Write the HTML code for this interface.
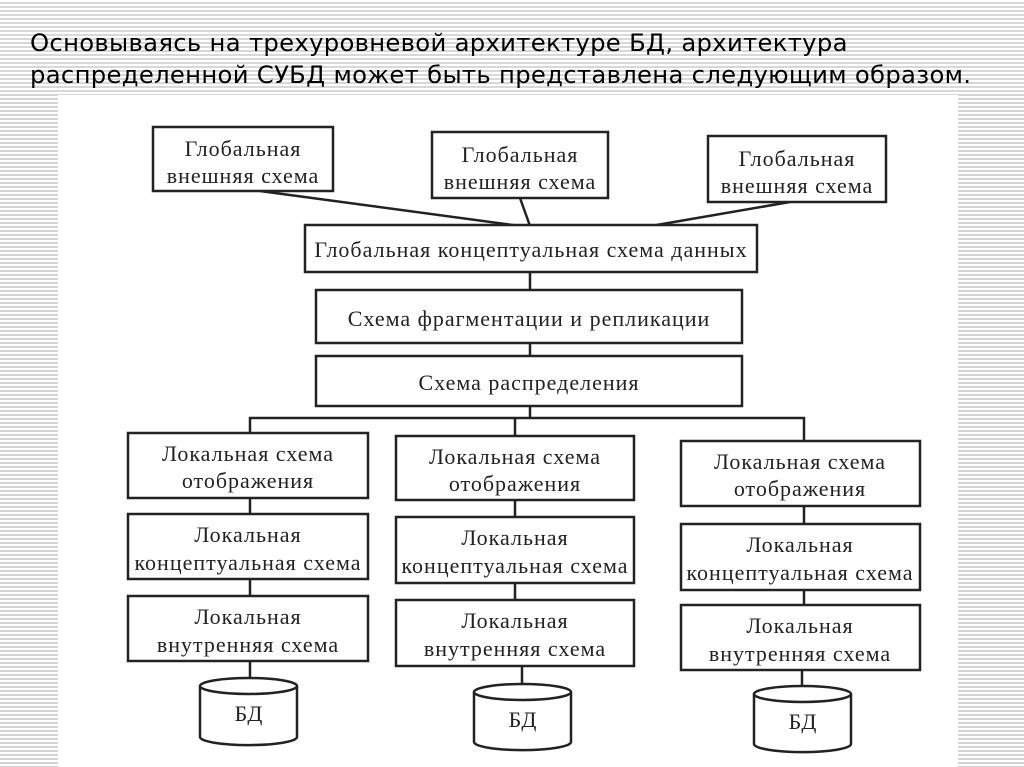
<!DOCTYPE html>
<html><head><meta charset="utf-8"><style>
html,body{margin:0;padding:0}
body{width:1024px;height:767px;overflow:hidden;position:relative;background:#fff repeating-linear-gradient(to bottom,#fff 0,#fff 2px,#d4d4d4 2px,#d4d4d4 4px)}
.t{position:absolute;left:0;top:0;width:1024px;height:95px;background:#fff repeating-linear-gradient(to bottom,#fff 0,#fff 2px,#d8d8d8 2px,#d8d8d8 4px)}
.title{position:absolute;left:30px;top:27px;font:24.3px/32px "DejaVu Sans","Liberation Sans",sans-serif;color:#000;letter-spacing:0.3px}
.sheet{position:absolute;left:58px;top:95px;width:900px;height:672px;background:#fff}
svg{position:absolute;left:0;top:0}
text{font-family:"Liberation Serif",serif;font-size:22px;letter-spacing:1px;fill:#222;text-anchor:middle}
</style></head><body>
<div class="t"></div>
<div class="title">Основываясь на трехуровневой архитектуре БД, архитектура<br>распределенной СУБД может быть представлена следующим образом.</div>
<div class="sheet"></div>
<svg width="1024" height="767" viewBox="0 0 1024 767">
<g fill="#fff" stroke="#222" stroke-width="2.5">
<line x1="260" y1="191" x2="520" y2="226"/>
<line x1="520" y1="198" x2="530" y2="226"/>
<line x1="790" y1="202" x2="645" y2="227"/>
<line x1="530" y1="272" x2="530" y2="290"/>
<line x1="530" y1="343" x2="530" y2="356"/>
<polyline points="530,406 530,418" fill="none"/>
<polyline points="250,433 250,418 804,418 804,441" fill="none"/>
<line x1="515" y1="418" x2="515" y2="436"/>
<rect x="153" y="127" width="180" height="64"/>
<rect x="432" y="132" width="176" height="66"/>
<rect x="708" y="136" width="178" height="66"/>
<rect x="305" y="225" width="452" height="47"/>
<rect x="316" y="290" width="426" height="53"/>
<rect x="316" y="356" width="426" height="50"/>
<line x1="250" y1="498" x2="250" y2="514"/><line x1="250" y1="579" x2="250" y2="596"/><line x1="250" y1="661" x2="250" y2="684"/>
<rect x="128" y="433" width="240" height="65"/><rect x="128" y="514" width="240" height="65"/><rect x="128" y="596" width="240" height="65"/>
<line x1="515" y1="500" x2="515" y2="517"/><line x1="515" y1="583" x2="515" y2="600"/><line x1="522" y1="666" x2="522" y2="690"/>
<rect x="396" y="436" width="238" height="64"/><rect x="396" y="517" width="238" height="66"/><rect x="396" y="600" width="238" height="66"/>
<line x1="804" y1="506" x2="804" y2="524"/><line x1="804" y1="590" x2="804" y2="605"/><line x1="802" y1="670" x2="802" y2="692"/>
<rect x="681" y="441" width="239" height="65"/><rect x="681" y="524" width="239" height="66"/><rect x="681" y="605" width="239" height="65"/>
<path d="M200,686 L200,737 A48,8 0 0 0 297,737 L297,686"/><ellipse cx="248.5" cy="686" rx="48.5" ry="8"/>
<path d="M474,692 L474,742 A48,8 0 0 0 571,742 L571,692"/><ellipse cx="522.5" cy="692" rx="48.5" ry="8"/>
<path d="M754,694 L754,744 A48,8 0 0 0 851,744 L851,694"/><ellipse cx="802.5" cy="694" rx="48.5" ry="8"/>
</g>
<text x="243" y="156">Глобальная</text><text x="243" y="183">внешняя схема</text>
<text x="520" y="162">Глобальная</text><text x="520" y="189">внешняя схема</text>
<text x="797" y="166">Глобальная</text><text x="797" y="193">внешняя схема</text>
<text x="531" y="257">Глобальная концептуальная схема данных</text>
<text x="529" y="326">Схема фрагментации и репликации</text>
<text x="529" y="390">Схема распределения</text>
<text x="248" y="461">Локальная схема</text><text x="248" y="488">отображения</text>
<text x="248" y="542">Локальная</text><text x="248" y="570">концептуальная схема</text>
<text x="248" y="624">Локальная</text><text x="248" y="652">внутренняя схема</text>
<text x="515" y="464">Локальная схема</text><text x="515" y="491">отображения</text>
<text x="515" y="545">Локальная</text><text x="515" y="573">концептуальная схема</text>
<text x="515" y="628">Локальная</text><text x="515" y="656">внутренняя схема</text>
<text x="800" y="469">Локальная схема</text><text x="800" y="496">отображения</text>
<text x="800" y="552">Локальная</text><text x="800" y="580">концептуальная схема</text>
<text x="800" y="633">Локальная</text><text x="800" y="661">внутренняя схема</text>
<text x="249" y="721">БД</text><text x="523" y="727">БД</text><text x="803" y="729">БД</text>
</svg>
</body></html>
